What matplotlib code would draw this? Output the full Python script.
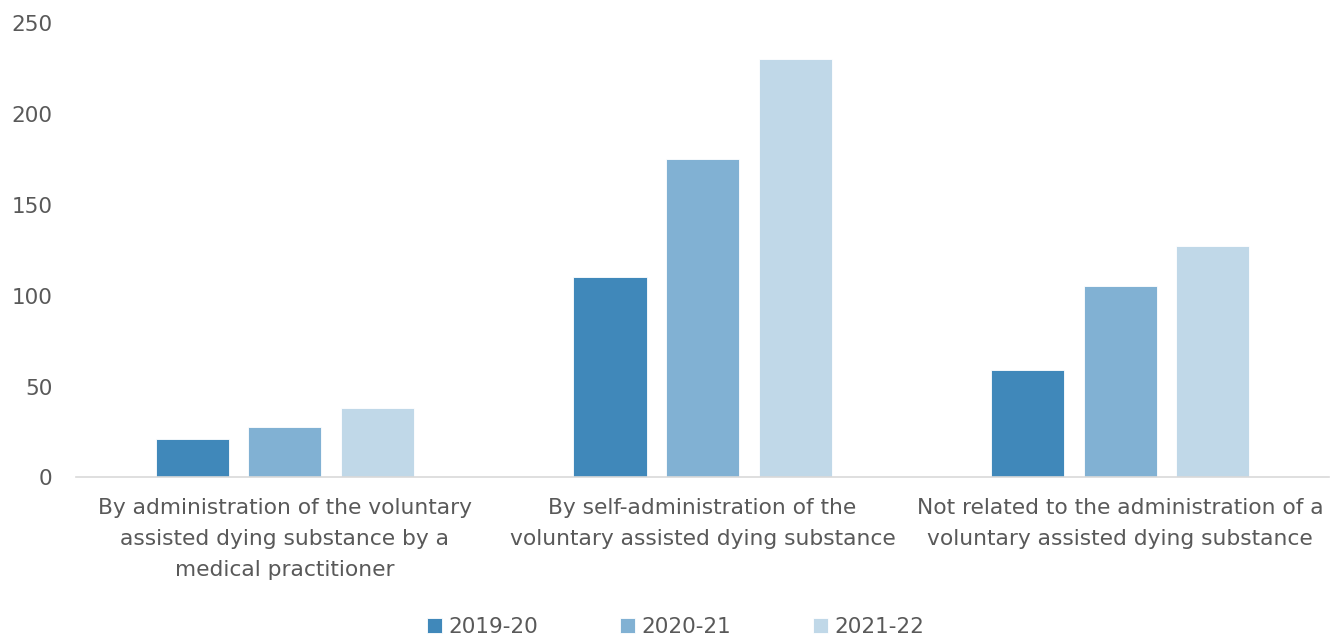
import matplotlib.pyplot as plt
import numpy as np

plt.rcParams['font.family'] = ['DejaVu Sans']

# categories and values
categories = [
    "By administration of the voluntary\nassisted dying substance by a\nmedical practitioner",
    "By self-administration of the\nvoluntary assisted dying substance",
    "Not related to the administration of a\nvoluntary assisted dying substance",
]
years = ["2019-20", "2020-21", "2021-22"]
v_2019 = [21, 110, 59]
v_2020 = [28, 175, 105]
v_2021 = [38, 230, 127]
colors = ["#4088ba", "#81b1d3", "#c0d8e8"]

fig = plt.figure(figsize=(13.43, 6.37), dpi=100)
ax = fig.add_axes([0.0566, 0.2504, 0.933, 0.714])

x = np.arange(len(categories))
w = 0.175
step = 0.2216
for i, (vals, lab) in enumerate(zip([v_2019, v_2020, v_2021], years)):
    ax.bar(x + (i - 1) * step, vals, width=w, color=colors[i], label=lab,
           edgecolor="white", linewidth=0.6)

ax.set_xlim(-0.5, 2.5)
ax.set_ylim(0, 250)
ax.set_yticks(range(0, 251, 50))
ax.set_xticks(x)
ax.set_xticklabels(categories, fontsize=15.7, color="#595959", linespacing=1.68)
ax.tick_params(axis="y", labelsize=15.5, labelcolor="#595959", length=0, pad=17)
ax.tick_params(axis="x", length=0, pad=15)
for s in ["top", "right", "left"]:
    ax.spines[s].set_visible(False)
ax.spines["bottom"].set_color("#d9d9d9")
ax.spines["bottom"].set_linewidth(1.2)

fig.legend(loc="lower center", bbox_to_anchor=(0.503, -0.03), ncol=3, frameon=False,
           fontsize=15.5, labelcolor="#595959", handlelength=0.7, handleheight=0.7,
           handletextpad=0.3, columnspacing=3.8)

fig.savefig("out.png", dpi=100)
